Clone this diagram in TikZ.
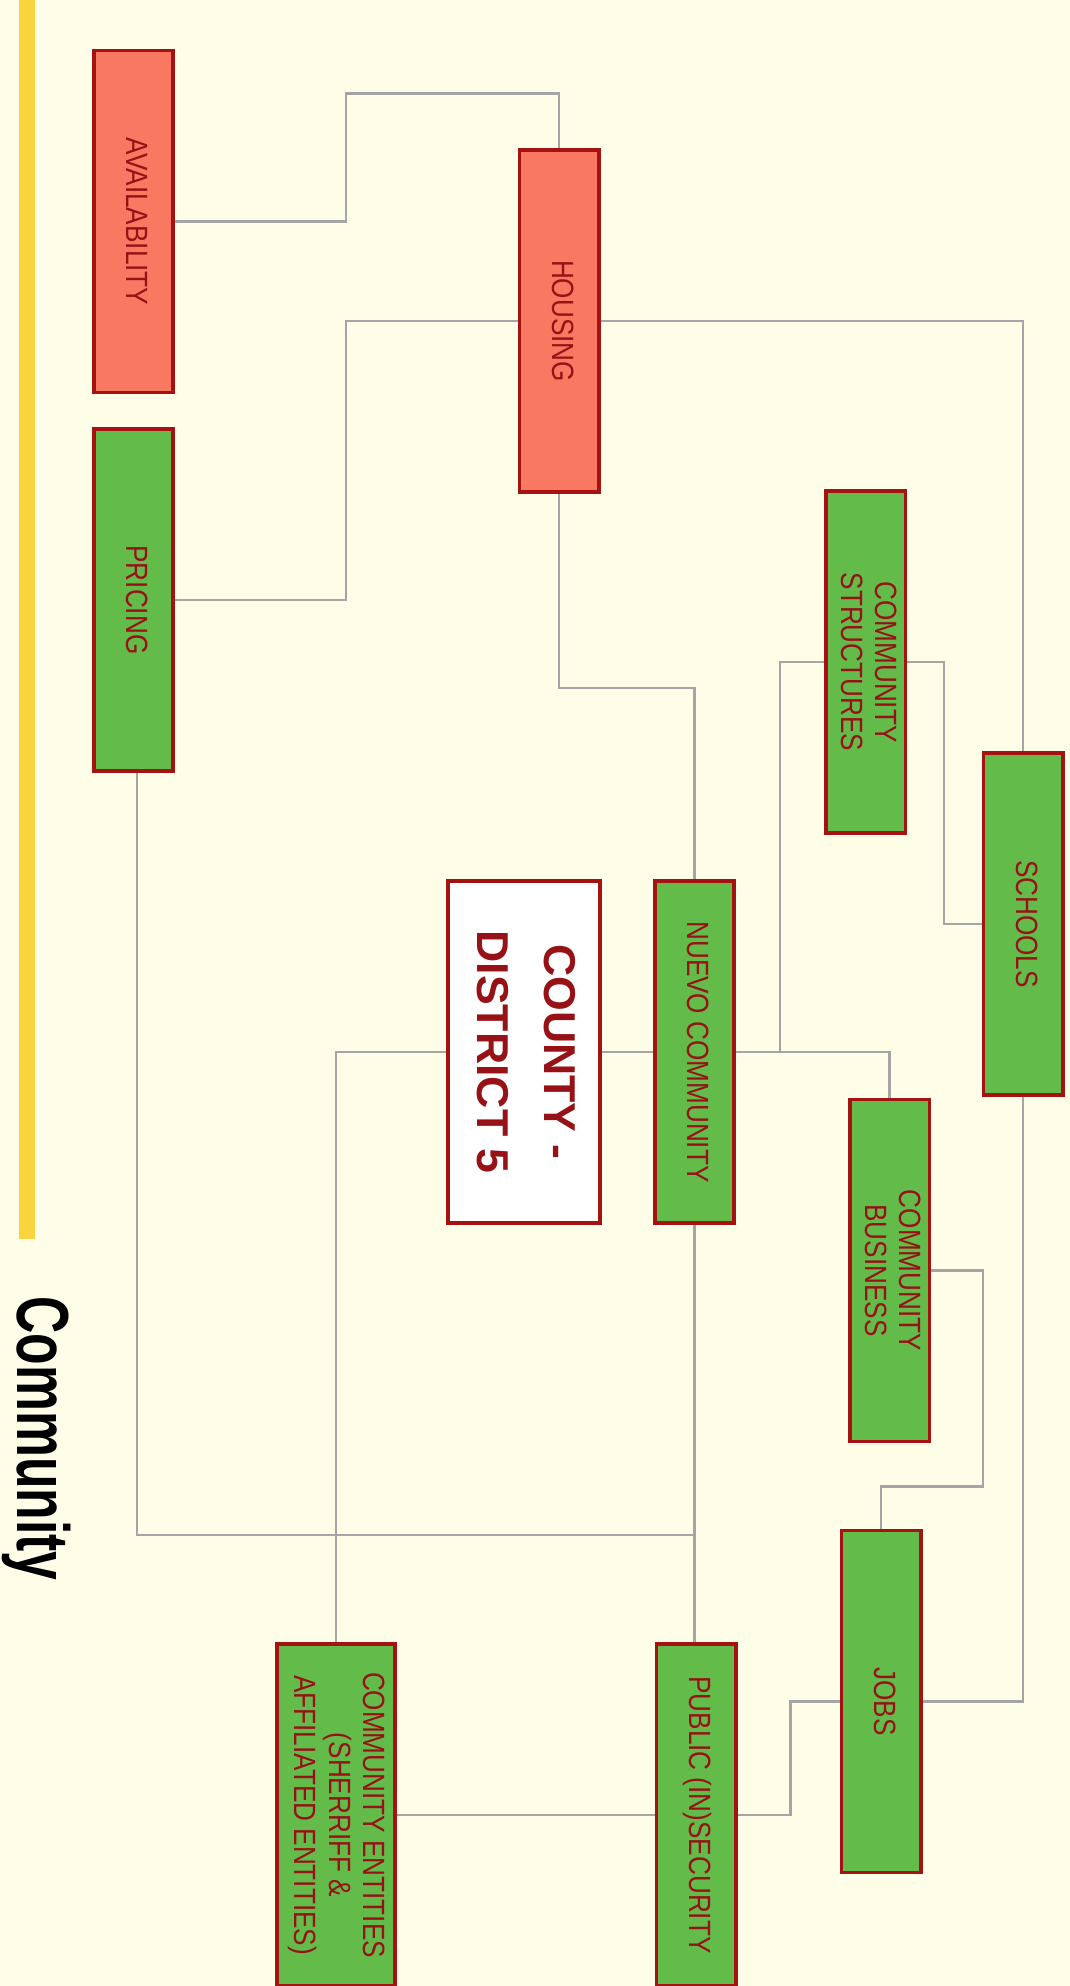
\documentclass[tikz,border=0pt]{standalone}
\usepackage{fontspec}
\usepackage{graphicx}
\setmainfont{Liberation Sans}
\newfontfamily\labelfont[FakeStretch=0.85]{Liberation Sans}
\newfontfamily\titlefont[FakeStretch=0.7]{Liberation Sans}
\usetikzlibrary{backgrounds}
\definecolor{paper}{RGB}{253,253,232}
\definecolor{baryellow}{RGB}{250,212,60}
\definecolor{issuered}{RGB}{249,120,98}
\definecolor{assetgreen}{RGB}{99,188,74}
\definecolor{edgered}{RGB}{165,18,18}
\definecolor{inkred}{RGB}{150,18,22}
\definecolor{wiregray}{RGB}{165,165,165}
\newcommand\vlabel[1]{\rotatebox{-90}{\begin{tabular}{@{}c@{}}#1\end{tabular}}}
\tikzset{
  wire/.style={draw=wiregray,line width=1.6pt},
  topic/.style={rectangle,draw=edgered,line width=2pt,text=inkred,
    font=\labelfont\fontsize{17.5}{19.5}\selectfont,
    minimum width=1.59cm,minimum height=6.85cm,inner sep=0pt},
  issue/.style={topic,fill=issuered},
  asset/.style={topic,fill=assetgreen},
  hub/.style={topic,fill=white,minimum width=3.05cm,
    font=\bfseries\fontsize{25.4}{38}\selectfont}
}

\begin{document}
\begin{tikzpicture}[x=0.02cm,y=-0.02cm]
  % Mapa de la comunidad, girado: el texto se lee de arriba abajo.
  \useasboundingbox (0,0) rectangle (1070,1986);

  \node[issue] (avail) at (133.5,221.5) {\vlabel{AVAILABILITY}};
  \node[asset] (pricing) at (133.5,600) {\vlabel{PRICING}};
  \node[issue] (housing) at (559,321) {\vlabel{HOUSING}};
  \node[asset] (structures) at (865.5,662) {\vlabel{COMMUNITY\\STRUCTURES}};
  \node[asset] (schools) at (1023,924) {\vlabel{SCHOOLS}};
  \node[hub] (county) at (524,1052) {\vlabel{COUNTY -\\DISTRICT 5}};
  \node[asset] (nuevo) at (694.5,1052) {\vlabel{NUEVO COMMUNITY}};
  \node[asset] (business) at (889.5,1270.5) {\vlabel{COMMUNITY\\BUSINESS}};
  \node[asset] (jobs) at (881,1701.5) {\vlabel{JOBS}};
  \node[asset] (security) at (696,1815) {\vlabel{PUBLIC (IN)SECURITY}};
  \node[asset,minimum width=2.37cm] (entities) at (336,1815)
    {\vlabel{COMMUNITY ENTITIES\\(SHERRIFF \&\\AFFILIATED ENTITIES)}};

  \node[rotate=-90,anchor=base west,inner sep=0pt,
    font=\titlefont\bfseries\fontsize{42}{46}\selectfont] (title) at (17,1296) {Community};

  \begin{scope}[on background layer]
    \fill[paper] (0,0) rectangle (1070,1986);
    \fill[baryellow] (19,0) rectangle (35,1239);

    \draw[wire] (avail.east) -- ++(171,0) -- ++(0,-128) -| (housing.north);
    \draw[wire] (pricing.east) -- ++(171,0) |- (housing.west);
    \draw[wire] (housing.east) -| (schools.north);
    \draw[wire] (housing.south) -- ++(0,194) -| (nuevo.north);
    \draw[wire] (structures.west) -- ++(-44,0) |- (nuevo.east);
    \draw[wire] (structures.east) -- ++(37,0) |- (schools.west);
    \draw[wire] (nuevo.east) -| (business.north);
    \draw[wire] (county.east) -- (nuevo.west);
    \draw[wire] (county.west) -| (entities.north);
    \draw[wire] ([xshift=0.07cm]pricing.south) -- ++(0,762) -| (nuevo.south);
    \draw[wire] (nuevo.south) -- (nuevo.south |- security.north);
    \draw[wire] (business.east) -- ++(52,0) -- ++(0,216) -| (jobs.north);
    \draw[wire] (schools.south) |- (jobs.east);
    \draw[wire] (jobs.west) -- ++(-49,0) |- (security.east);
    \draw[wire] (security.west) -- (entities.east);
  \end{scope}
\end{tikzpicture}
\end{document}
